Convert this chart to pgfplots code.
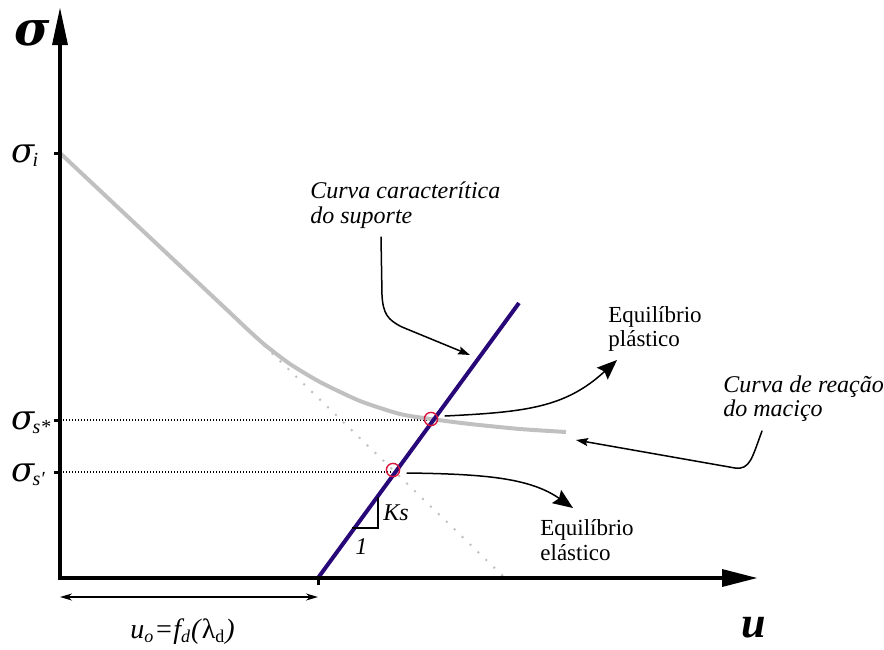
\documentclass[border=0pt]{standalone}
\usepackage{fontspec}
\setmainfont{Liberation Serif}
\newfontfamily\greekserif{DejaVu Serif}
\usepackage{pgfplots}
\pgfplotsset{compat=1.18}
\usetikzlibrary{arrows.meta}
\definecolor{support}{RGB}{40,8,120}
\definecolor{ground}{RGB}{192,192,192}
\definecolor{eqred}{RGB}{215,20,60}
\tikzset{
  note/.style={line width=0.75pt, line cap=round},
  bighead/.style={-{Stealth[length=10pt,width=8pt,inset=1.5pt]}},
  smallhead/.style={-{Stealth[length=6pt,width=4pt,inset=1pt]}},
  lbl/.style={anchor=base west, inner sep=0pt},
}
\newcommand\sig{{\greekserif\itshape σ}}
\begin{document}
\begin{tikzpicture}
\begin{axis}[
  scale only axis, width=442pt, height=324.5pt,
  xmin=0, xmax=884, ymin=0, ymax=649, y dir=reverse,
  hide axis, clip=false]
\path (axis cs:0,0) rectangle (axis cs:884,649);

% stress levels at equilibrium
\addplot[black, line width=0.6pt, dash pattern=on 0.6pt off 0.9pt] coordinates {(60,420) (431,420)};
\addplot[black, line width=0.6pt, dash pattern=on 0.6pt off 0.9pt] coordinates {(60,472) (393,472)};

% elastic continuation of the ground reaction curve
\addplot[ground, line width=1.4pt, line cap=round, dash pattern=on 0pt off 5.5pt] coordinates {(225,308) (505,578)};

% ground reaction curve
\addplot[ground, line width=2pt, smooth, tension=0.4] coordinates {
  (60,153) (225,308) (245,327) (265,345) (290,364) (320,382)
  (360,401) (400,414) (431,419) (470,424) (520,429) (566,432)};

% support characteristic line
\addplot[support, line width=2pt] coordinates {(318,578) (519,303)};

% equilibrium points
\addplot[only marks, mark=o, mark size=3.3pt, mark options={eqred, line width=0.7pt}] coordinates {(431,419) (393,470)};

% axes
\draw[line width=2pt, line join=miter] (60,45) -- (60,578) -- (722,578);
\fill (52,45) -- (60,8) -- (68,45) -- cycle;
\fill (722,569) -- (757,578) -- (722,587) -- cycle;
\draw[line width=1.5pt] (54,153) -- (60,153);
\draw[line width=1.5pt] (54,420) -- (60,420);
\draw[line width=1.5pt] (54,472) -- (60,472);
\draw[line width=1.5pt] (318,578) -- (318,585);

% axis labels
\node[lbl, font=\fontsize{24}{24}\selectfont\bfseries] at (14,45) {\sig};
\node[lbl, font=\fontsize{22}{22}\selectfont\bfseries\itshape] at (741,637) {u};
\node[lbl, font=\fontsize{17}{17}\selectfont] at (11,162) {\sig\kern-1pt\raisebox{-2pt}{\fontsize{10}{10}\selectfont\itshape i}};
\node[lbl, font=\fontsize{17}{17}\selectfont] at (11,429) {\sig\kern-1pt\raisebox{-2pt}{\fontsize{10}{10}\selectfont\itshape s*}};
\node[lbl, font=\fontsize{17}{17}\selectfont] at (11,481) {\sig\kern-1pt\raisebox{-2pt}{\fontsize{10}{10}\selectfont\itshape s′}};

% support offset
\draw[line width=0.75pt, {Stealth[length=6pt,width=3.5pt]}-{Stealth[length=6pt,width=3.5pt]}] (60,597) -- (318,597);
\node[lbl, font=\fontsize{14}{14}\selectfont\itshape] at (130,638)
  {u\textsubscript{\fontsize{9}{9}\selectfont o}=f\textsubscript{\fontsize{9}{9}\selectfont d}(\textup{λ\textsubscript{\fontsize{9}{9}\selectfont d}})};

% stiffness triangle
\draw[line width=0.75pt] (352,528) -- (378,528) -- (378,497);
\node[lbl, font=\fontsize{12}{12}\selectfont\itshape] at (383,520) {Ks};
\node[lbl, font=\fontsize{12}{12}\selectfont\itshape] at (355,554) {1};

% annotations
\node[lbl, font=\fontsize{12}{12}\selectfont\itshape] at (310,198) {Curva caracterítica};
\node[lbl, font=\fontsize{12}{12}\selectfont\itshape] at (310,223) {do suporte};
\draw[note, smallhead] (381,237) -- (382,295) .. controls (383,314) and (388,320) .. (402,327) -- (470,355);

\node[lbl, font=\fontsize{11.5}{11.5}\selectfont] at (608,322) {Equilíbrio};
\node[lbl, font=\fontsize{11.5}{11.5}\selectfont] at (608,346) {plástico};
\draw[note, bighead] (445,416) .. controls (525,412) and (565,408) .. (617,360);

\node[lbl, font=\fontsize{11.5}{11.5}\selectfont] at (540,535) {Equilíbrio};
\node[lbl, font=\fontsize{11.5}{11.5}\selectfont] at (540,560) {elástico};
\draw[note, bighead] (407,473) .. controls (485,474) and (530,478) .. (573,508);

\node[lbl, font=\fontsize{12}{12}\selectfont\itshape] at (723,392) {Curva de reação};
\node[lbl, font=\fontsize{12}{12}\selectfont\itshape] at (723,416) {do maciço};
\draw[note, smallhead] (762,431) .. controls (752,458) and (750,470) .. (735,468) -- (576,440);
\end{axis}
\end{tikzpicture}
\end{document}
